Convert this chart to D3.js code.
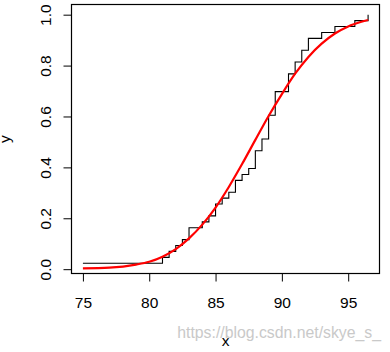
<!DOCTYPE html>
<html>
<head>
<meta charset="utf-8">
<script src="https://cdn.jsdelivr.net/npm/d3@7"></script>
<style>
  body { margin: 0; background: #fff; }
  svg { display: block; }
</style>
</head>
<body>
<div id="chart"></div>
<script>
// Sample values (sorted, unique) and how many times each occurs
let values = [75, 81, 81.5, 82, 82.5, 83, 84, 84.5, 85, 85.5, 86, 86.5, 87, 87.5, 88, 88.5, 89, 89.5, 90.5, 91, 91.5, 92, 93, 94, 95.5, 96.5];
let counts = [1, 1, 1, 1, 1, 2, 1, 1, 2, 1, 1, 2, 1, 1, 3, 2, 4, 4, 3, 2, 2, 2, 1, 1, 1, 1];

// Red fitted curve
let curveX = [75, 77, 79, 80, 81, 82, 83, 84, 85, 86, 87, 88, 89, 90, 91, 92, 93, 94, 95, 96, 96.5];
let curveY = [0.003, 0.006, 0.018, 0.029, 0.049, 0.079, 0.121, 0.175, 0.242, 0.323, 0.413, 0.508, 0.602, 0.688, 0.768, 0.834, 0.886, 0.926, 0.954, 0.972, 0.979];

let xTicks = [75, 80, 85, 90, 95];
let yTicks = [0, 0.2, 0.4, 0.6, 0.8, 1.0];

let width = 390;
let height = 352;
let box = {left: 71.5, right: 379.5, top: 4.5, bottom: 273.5};

let svg = d3.select('#chart')
	.append('svg')
	.attr('width', width)
	.attr('height', height)
	.style('font-family', '"Liberation Sans", Arial, sans-serif');

let x = d3.scaleLinear()
	.domain([74.14, 97.36])
	.range([box.left, box.right]);

let y = d3.scaleLinear()
	.domain([-0.017, 1.04])
	.range([box.bottom, box.top]);

// cumulative step points
let n = d3.sum(counts);
let steps = [];
let cum = 0;
for (let i = 0; i < values.length; i++) {
	for (let j = 0; j < counts[i]; j++) {
		cum += 1;
		steps.push([values[i], cum / n]);
	}
}

// Step line (type = "s")
svg.append('path')
	.datum(steps)
	.attr('fill', 'none')
	.attr('stroke', '#000')
	.attr('stroke-width', 1.1)
	.attr('d', d3.line()
		.x(d => x(d[0]))
		.y(d => y(d[1]))
		.curve(d3.curveStepAfter));

// Red curve
let redPts = curveX.map((v, i) => [v, curveY[i]]);
svg.append('path')
	.datum(redPts)
	.attr('fill', 'none')
	.attr('stroke', '#ff0000')
	.attr('stroke-width', 2.2)
	.attr('d', d3.line()
		.x(d => x(d[0]))
		.y(d => y(d[1]))
		.curve(d3.curveMonotoneX));

// Axes
let xAxis = svg.append('g')
	.attr('transform', 'translate(0,' + box.bottom + ')')
	.call(d3.axisBottom(x).tickValues(xTicks).tickSize(8).tickPadding(15).tickFormat(d3.format('d')));

let yAxis = svg.append('g')
	.attr('transform', 'translate(' + box.left + ',0)')
	.call(d3.axisLeft(y).tickValues(yTicks).tickSize(8).tickFormat(d3.format('.1f')));

xAxis.select('.domain').remove();
yAxis.select('.domain').remove();

xAxis.selectAll('text')
	.attr('font-size', 15.5)
	.attr('fill', '#000')
	.attr('font-family', '"Liberation Sans", Arial, sans-serif');

yAxis.selectAll('text')
	.attr('font-size', 15.5)
	.attr('fill', '#000')
	.attr('font-family', '"Liberation Sans", Arial, sans-serif')
	.attr('text-anchor', 'middle')
	.attr('x', 0)
	.attr('dy', 0)
	.attr('transform', 'translate(-21,0) rotate(-90)');

xAxis.selectAll('line').attr('stroke', '#000');
yAxis.selectAll('line').attr('stroke', '#000');

// Box
svg.append('rect')
	.attr('x', box.left)
	.attr('y', box.top)
	.attr('width', box.right - box.left)
	.attr('height', box.bottom - box.top)
	.attr('fill', 'none')
	.attr('stroke', '#000')
	.attr('stroke-width', 1.2);

// Axis titles
svg.append('text')
	.attr('x', (box.left + box.right) / 2)
	.attr('y', 346)
	.attr('text-anchor', 'middle')
	.attr('font-size', 15.5)
	.text('x');

svg.append('text')
	.attr('transform', 'translate(10,' + (box.top + box.bottom) / 2 + ') rotate(-90)')
	.attr('text-anchor', 'middle')
	.attr('font-size', 15.5)
	.text('y');

// Watermark
svg.append('text')
	.attr('x', 381)
	.attr('y', 338)
	.attr('text-anchor', 'end')
	.attr('font-size', 15.8)
	.attr('fill', '#c9c9c9')
	.attr('stroke', '#fff')
	.attr('stroke-width', 0.6)
	.attr('paint-order', 'stroke')
	.text('https://blog.csdn.net/skye_s_');
</script>
</body>
</html>
